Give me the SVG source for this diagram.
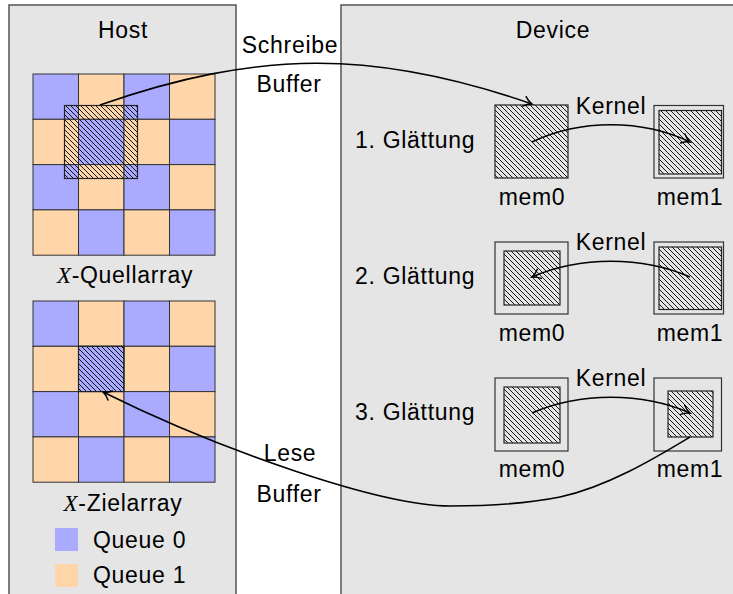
<svg xmlns="http://www.w3.org/2000/svg" width="733" height="594" viewBox="0 0 733 594">
  <defs>
    <style>
      .panel { fill: #e5e5e5; stroke: #555; stroke-width: 1.5; }
      .q0 { fill: #aaaaff; stroke: #333; stroke-width: 1; }
      .q1 { fill: #ffd5aa; stroke: #333; stroke-width: 1; }
      .hatch { fill: url(#nwlines); stroke: #222; stroke-width: 1.2; }
      .frame { fill: none; stroke: #333; stroke-width: 1.2; }
      .lbl { font-family: "Liberation Sans", Arial, sans-serif; font-size: 23px; fill: #000; letter-spacing: 0.7px; }
      .mid { text-anchor: middle; }
      .math { font-family: "Liberation Serif", "Times New Roman", serif; font-style: italic; }
      .conn { fill: none; stroke: #000; stroke-width: 1.6; marker-end: url(#to); }
    </style>
    <!-- north-west diagonal hatching -->
    <pattern id="nwlines" patternUnits="userSpaceOnUse" width="5" height="5">
      <path d="M-1,-1 L6,6 M-1,4 L1,6 M4,-1 L6,1" stroke="#000" stroke-width="0.9" fill="none"/>
    </pattern>
    <!-- open curved arrow tip -->
    <marker id="to" markerUnits="userSpaceOnUse" markerWidth="14" markerHeight="14" viewBox="-10 -7 14 14" refX="0" refY="0" orient="auto" overflow="visible">
      <path d="M-8,-5 C-5,-2 -2,-0.6 0,0 C-2,0.6 -5,2 -8,5" fill="none" stroke="#000" stroke-width="1.5" stroke-linecap="round"/>
    </marker>
  </defs>

  <rect width="733" height="594" fill="#fff"/>

  <!-- panels -->
  <g id="host-panel">
    <rect class="panel" x="9" y="5" width="227" height="600"/>
    <text class="lbl mid" x="123" y="38">Host</text>
  </g>
  <g id="device-panel">
    <rect class="panel" x="341" y="5" width="400" height="600"/>
    <text class="lbl mid" x="553" y="38">Device</text>
  </g>

  <!-- source array, 4x4 checkerboard -->
  <g id="source-array">
    <rect class="q0" x="33" y="74" width="45.5" height="45.3"/>
    <rect class="q1" x="78.5" y="74" width="45.5" height="45.3"/>
    <rect class="q0" x="124" y="74" width="45.5" height="45.3"/>
    <rect class="q1" x="169.5" y="74" width="45.5" height="45.3"/>
    <rect class="q1" x="33" y="119.3" width="45.5" height="45.3"/>
    <rect class="q0" x="78.5" y="119.3" width="45.5" height="45.3"/>
    <rect class="q1" x="124" y="119.3" width="45.5" height="45.3"/>
    <rect class="q0" x="169.5" y="119.3" width="45.5" height="45.3"/>
    <rect class="q0" x="33" y="164.6" width="45.5" height="45.3"/>
    <rect class="q1" x="78.5" y="164.6" width="45.5" height="45.3"/>
    <rect class="q0" x="124" y="164.6" width="45.5" height="45.3"/>
    <rect class="q1" x="169.5" y="164.6" width="45.5" height="45.3"/>
    <rect class="q1" x="33" y="209.9" width="45.5" height="45.3"/>
    <rect class="q0" x="78.5" y="209.9" width="45.5" height="45.3"/>
    <rect class="q1" x="124" y="209.9" width="45.5" height="45.3"/>
    <rect class="q0" x="169.5" y="209.9" width="45.5" height="45.3"/>
    <rect class="hatch" x="64.5" y="105.5" width="73" height="73"/>
    <text class="lbl mid" x="125" y="283"><tspan class="math">X</tspan>-Quellarray</text>
  </g>

  <!-- target array, 4x4 checkerboard -->
  <g id="target-array">
    <rect class="q0" x="33" y="301" width="45.5" height="45.3"/>
    <rect class="q1" x="78.5" y="301" width="45.5" height="45.3"/>
    <rect class="q0" x="124" y="301" width="45.5" height="45.3"/>
    <rect class="q1" x="169.5" y="301" width="45.5" height="45.3"/>
    <rect class="q1" x="33" y="346.3" width="45.5" height="45.3"/>
    <rect class="q0" x="78.5" y="346.3" width="45.5" height="45.3"/>
    <rect class="q1" x="124" y="346.3" width="45.5" height="45.3"/>
    <rect class="q0" x="169.5" y="346.3" width="45.5" height="45.3"/>
    <rect class="q0" x="33" y="391.6" width="45.5" height="45.3"/>
    <rect class="q1" x="78.5" y="391.6" width="45.5" height="45.3"/>
    <rect class="q0" x="124" y="391.6" width="45.5" height="45.3"/>
    <rect class="q1" x="169.5" y="391.6" width="45.5" height="45.3"/>
    <rect class="q1" x="33" y="436.9" width="45.5" height="45.3"/>
    <rect class="q0" x="78.5" y="436.9" width="45.5" height="45.3"/>
    <rect class="q1" x="124" y="436.9" width="45.5" height="45.3"/>
    <rect class="q0" x="169.5" y="436.9" width="45.5" height="45.3"/>
    <rect class="hatch" x="78.5" y="346.3" width="45.5" height="45.3"/>
    <text class="lbl mid" x="123" y="511"><tspan class="math">X</tspan>-Zielarray</text>
  </g>

  <!-- legend -->
  <g id="legend">
    <rect x="55" y="528" width="23" height="23" fill="#aaaaff"/>
    <text class="lbl" x="93" y="548">Queue 0</text>
    <rect x="55" y="564" width="23" height="23" fill="#ffd5aa"/>
    <text class="lbl" x="93" y="583">Queue 1</text>
  </g>

  <!-- smoothing pass 1 -->
  <g id="pass1">
    <text class="lbl" x="355" y="148">1. Glättung</text>
    <g id="pass1-mem0">
      <rect class="hatch" x="495" y="105" width="73" height="73"/>
      <text class="lbl mid" x="532" y="205">mem0</text>
    </g>
    <g id="pass1-mem1">
      <rect class="frame" x="654" y="105.5" width="69.5" height="72.5"/>
      <rect class="hatch" x="659" y="110.5" width="62.5" height="63.5"/>
      <text class="lbl mid" x="690" y="205">mem1</text>
    </g>
    <text class="lbl mid" x="611" y="114">Kernel</text>
  </g>

  <!-- smoothing pass 2 -->
  <g id="pass2">
    <text class="lbl" x="355" y="284">2. Glättung</text>
    <g id="pass2-mem0">
      <rect class="frame" x="495" y="242" width="73" height="72"/>
      <rect class="hatch" x="504" y="251" width="56" height="54"/>
      <text class="lbl mid" x="532" y="341">mem0</text>
    </g>
    <g id="pass2-mem1">
      <rect class="frame" x="654" y="242" width="69.5" height="72"/>
      <rect class="hatch" x="659" y="247" width="62.5" height="62.5"/>
      <text class="lbl mid" x="690" y="341">mem1</text>
    </g>
    <text class="lbl mid" x="611" y="250">Kernel</text>
  </g>

  <!-- smoothing pass 3 -->
  <g id="pass3">
    <text class="lbl" x="355" y="420">3. Glättung</text>
    <g id="pass3-mem0">
      <rect class="frame" x="495" y="378" width="73" height="73"/>
      <rect class="hatch" x="504" y="387" width="56" height="56"/>
      <text class="lbl mid" x="532" y="477">mem0</text>
    </g>
    <g id="pass3-mem1">
      <rect class="frame" x="654" y="378" width="67.5" height="73"/>
      <rect class="hatch" x="668" y="391" width="45" height="46"/>
      <text class="lbl mid" x="690" y="477">mem1</text>
    </g>
    <text class="lbl mid" x="611" y="386">Kernel</text>
  </g>

  <!-- transfer labels -->
  <g id="transfer-labels">
    <text class="lbl mid" x="290" y="53">Schreibe</text>
    <text class="lbl mid" x="289" y="92">Buffer</text>
    <text class="lbl mid" x="290" y="461">Lese</text>
    <text class="lbl mid" x="289" y="502">Buffer</text>
  </g>

  <!-- connectors -->
  <g id="connectors">
    <path class="conn" d="M100,105 C258,50 374,49 532,104"/>
    <path class="conn" d="M532,142 C580,119 642,119 690,142"/>
    <path class="conn" d="M690,277 C642,256 580,256 532,277"/>
    <path class="conn" d="M532,413 C580,392 642,392 690,413"/>
    <path class="conn" d="M690,437 C660,455 610,486 560,497 C520,505 480,506 450,506 C380,506 220,450 103,392"/>
  </g>
</svg>
